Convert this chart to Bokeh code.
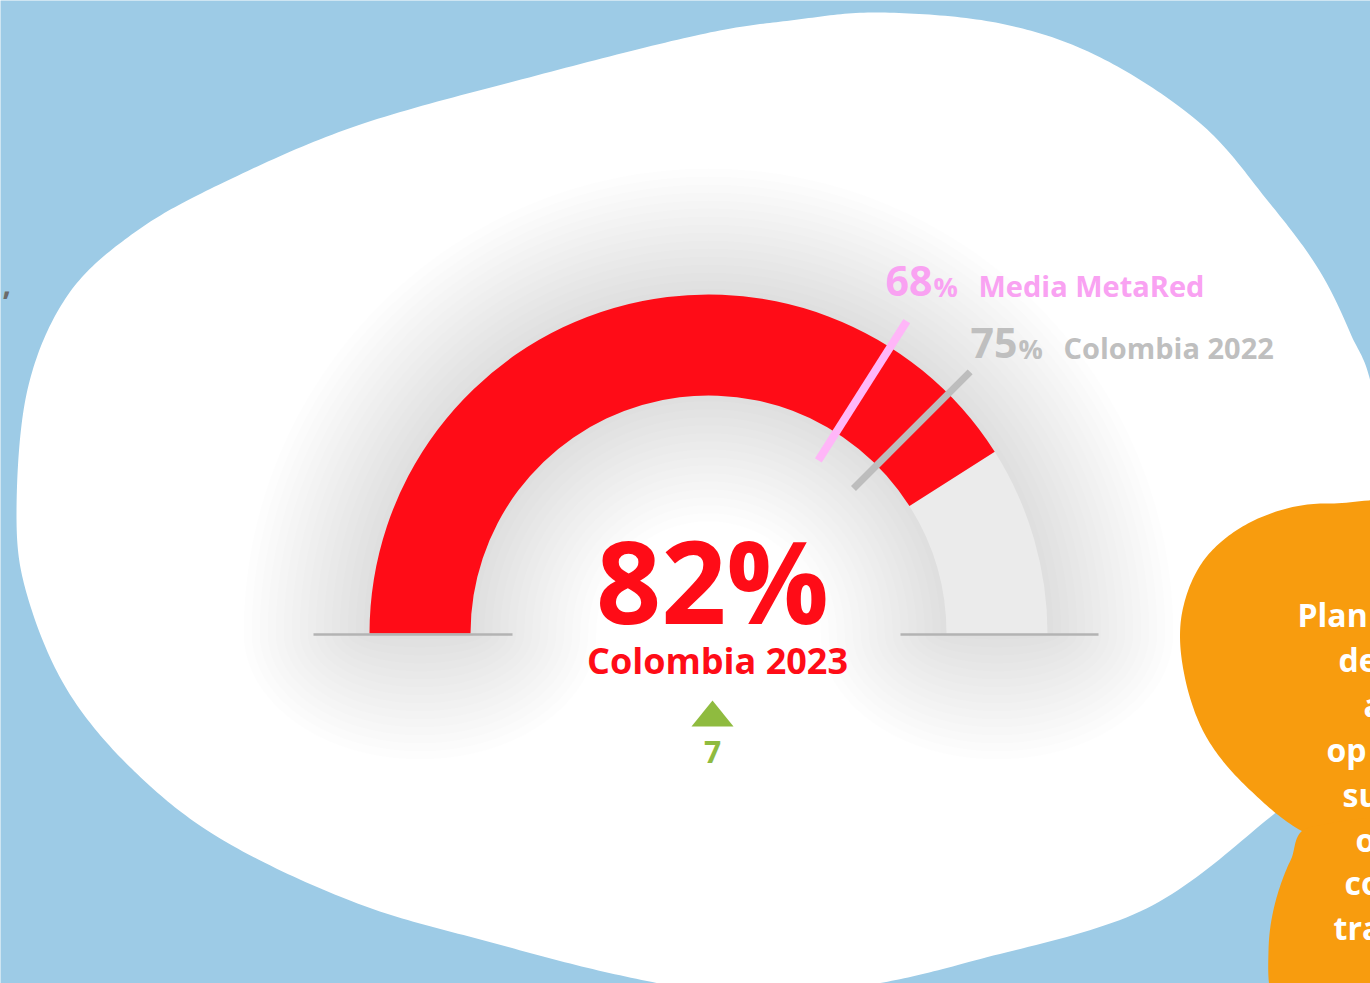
import math
from bokeh.plotting import figure
from bokeh.models import Range1d
from bokeh.core.properties import value
from bokeh.embed import file_html
from bokeh.resources import INLINE

# ---------------- data ----------------
current_value = [82]
current_label = ["Colombia 2023"]
ref_values = [68, 75]
ref_labels = ["Media MetaRed", "Colombia 2022"]
ref_colors = ["#ffb6f8", "#bdbdbd"]
ref_text_colors = ["#f9a2f2", "#bfbfbf"]
change = [7]
side_words = ["Plan", "de", "a", "op", "su", "o", "co", "tra"]

# ---------------- colours ----------------
BLUE = "#9dcbe6"
RED = "#ff0c17"
TRACK = "#ebebeb"
GREEN = "#8fbb3f"
ORANGE = "#f89c0e"
SHADOW = "#1a1a10"
FONT = value("Open Sans")

W, H = 1370, 983
p = figure(width=W, height=H, x_range=Range1d(0, W), y_range=Range1d(0, H),
           output_backend="svg", toolbar_location=None, min_border=0)
p.axis.visible = False
p.grid.visible = False
p.outline_line_color = None
p.background_fill_color = BLUE
p.border_fill_color = BLUE


def Y(img_y):
    return H - img_y


def BL(img_baseline, size):
    # anchor that puts the text's baseline at img_baseline
    return Y(img_baseline - 0.35 * size)


def spline(pts, n=24):
    xs, ys = [], []
    m = len(pts)
    for i in range(m):
        p0, p1, p2, p3 = pts[i - 1], pts[i], pts[(i + 1) % m], pts[(i + 2) % m]
        for j in range(n):
            t = j / n
            t2, t3 = t * t, t * t * t
            x = 0.5 * ((2 * p1[0]) + (-p0[0] + p2[0]) * t + (2 * p0[0] - 5 * p1[0] + 4 * p2[0] - p3[0]) * t2 + (-p0[0] + 3 * p1[0] - 3 * p2[0] + p3[0]) * t3)
            y = 0.5 * ((2 * p1[1]) + (-p0[1] + p2[1]) * t + (2 * p0[1] - 5 * p1[1] + 4 * p2[1] - p3[1]) * t2 + (-p0[1] + 3 * p1[1] - 3 * p2[1] + p3[1]) * t3)
            xs.append(x)
            ys.append(Y(y))
    return xs, ys


# white blob
white_pts = [(880, 12), (1000, 23), (1100, 57), (1200, 123), (1267, 200), (1317, 267),
             (1350, 333), (1374, 400), (1400, 600), (1340, 760), (1278, 810), (1146, 908),
             (974, 960), (865, 985), (750, 996), (625, 976), (491, 942), (357, 903),
             (223, 840), (134, 771), (67, 690), (27, 596), (16, 514), (27, 389), (67, 295),
             (134, 232), (223, 182), (357, 125), (536, 75), (700, 34), (790, 20)]
wx, wy = spline(white_pts)
p.patch(wx, wy, fill_color="white", line_color=None)

# gauge geometry
cx, cy = 708, Y(633)
r_in, r_out = 238, 339
half_w = (r_out - r_in) / 2
ends = [cx - (r_in + r_out) / 2, cx + (r_in + r_out) / 2]

# soft shadow
for k in range(16):
    d = 6 + 8 * k
    p.annular_wedge(x=cx, y=cy, inner_radius=max(0, r_in - d), outer_radius=r_out + d,
                    start_angle=0, end_angle=math.pi, fill_color=SHADOW, fill_alpha=0.0065,
                    line_color=None)
    xs_l, ys_l = [], []
    for ex in ends:
        a, b = half_w + d, d
        angs = [math.pi + math.pi * i / 40 for i in range(41)]
        xs_l.append([ex + a * math.cos(t) for t in angs])
        ys_l.append([cy + b * math.sin(t) for t in angs])
    p.patches(xs_l, ys_l, fill_color=SHADOW, fill_alpha=0.0065, line_color=None)

# track + value arc
theta = math.pi * (1 - current_value[0] / 100)
p.annular_wedge(x=cx, y=cy, inner_radius=r_in, outer_radius=r_out, start_angle=0,
                end_angle=theta, fill_color=TRACK, line_color=None)
p.annular_wedge(x=cx, y=cy, inner_radius=r_in, outer_radius=r_out, start_angle=theta,
                end_angle=math.pi, fill_color=RED, line_color=None)

# baselines
p.segment(x0=[313, 900], y0=[cy - 1, cy - 1], x1=[512, 1098], y1=[cy - 1, cy - 1],
          line_color="#b3b3b3", line_width=2.5)

# reference markers
for v, c, w in zip(ref_values, ref_colors, [8, 7]):
    a = math.pi * (1 - v / 100)
    p.segment(x0=cx + 205 * math.cos(a), y0=cy + 205 * math.sin(a),
              x1=cx + 370 * math.cos(a), y1=cy + 370 * math.sin(a), line_color=c, line_width=w)

# reference labels
lab_pos = [(885, 295), (970, 357)]
for v, lab, c, (lx, ly) in zip(ref_values, ref_labels, ref_text_colors, lab_pos):
    p.text(x=[lx], y=[BL(ly, 41)], text=[str(v)], text_font=FONT, text_font_style="bold",
           text_font_size="41px", text_color=c, text_align="left", text_baseline="alphabetic")
    p.text(x=[lx + 48], y=[BL(ly, 27)], text=["%"], text_font=FONT, text_font_style="bold",
           text_font_size="27px", text_color=c, text_align="left", text_baseline="alphabetic")
    p.text(x=[lx + 93], y=[BL(ly, 29)], text=[lab], text_font=FONT, text_font_style="bold",
           text_font_size="29px", text_color=c, text_align="left", text_baseline="alphabetic")

# centre value
p.text(x=[712], y=[BL(619, 114)], text=[f"{current_value[0]}%"], text_font=FONT,
       text_font_style="bold", text_font_size="114px", text_color=RED, text_align="center",
       text_baseline="alphabetic")
p.text(x=[717], y=[BL(673, 36)], text=current_label, text_font=FONT, text_font_style="bold",
       text_font_size="36px", text_color=RED, text_align="center", text_baseline="alphabetic")

# change indicator
tx, ty = 712, Y(713)
p.patch([tx - 21, tx + 21, tx], [ty - 13, ty - 13, ty + 13], fill_color=GREEN, line_color=None)
p.text(x=[712], y=[BL(762, 30)], text=[str(change[0])], text_font=FONT, text_font_style="bold",
       text_font_size="30px", text_color=GREEN, text_align="center", text_baseline="alphabetic")

# stray comma from surrounding text
p.text(x=[2], y=[BL(294, 30)], text=[","], text_font=FONT, text_font_style="bold",
       text_font_size="30px", text_color="#6b6b6b", text_align="left", text_baseline="alphabetic")

# orange blob (two lobes)
upper = [(1330, 503), (1260, 517), (1207, 555), (1182, 610), (1183, 670), (1205, 735),
         (1250, 790), (1313, 836), (1400, 850), (1460, 700), (1430, 520)]
lower = [(1313, 826), (1290, 860), (1274, 905), (1268, 950), (1272, 1000), (1300, 1050),
         (1420, 1050), (1420, 840)]
for pts in (upper, lower):
    ox, oy = spline(pts)
    p.patch(ox, oy, fill_color=ORANGE, line_color=None)

word_x = [1297, 1338, 1363, 1326, 1342, 1355, 1344, 1333]
word_y = [625, 670, 715, 760, 805, 850, 893, 938]
p.text(x=word_x, y=[BL(v, 32) for v in word_y], text=side_words, text_font=FONT,
       text_font_style="bold", text_font_size="32px", text_color="white", text_align="left",
       text_baseline="alphabetic")

open("out.html", "w").write(file_html(p, INLINE))
